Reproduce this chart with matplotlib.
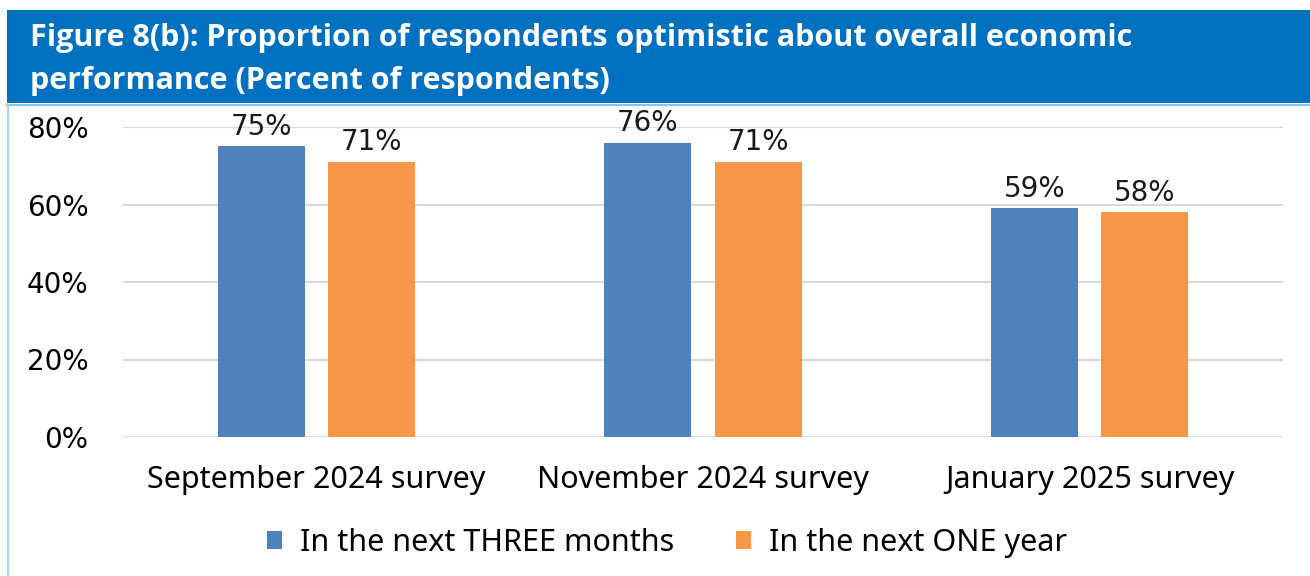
import numpy as np
import matplotlib.pyplot as plt
from matplotlib.patches import Rectangle
from matplotlib.lines import Line2D

surveys = ["September 2024 survey", "November 2024 survey", "January 2025 survey"]
three_months = [75, 76, 59]
one_year = [71, 71, 58]
series_names = ["In the next THREE months", "In the next ONE year"]
yticks = [0, 20, 40, 60, 80]
title_lines = ["Figure 8(b): Proportion of respondents optimistic about overall economic",
               "performance (Percent of respondents)"]

BLUE = "#4F81BD"
ORANGE = "#F79646"
BAND = "#0070C0"

W, H = 1310, 576
fig = plt.figure(figsize=(W / 100, H / 100), dpi=100)

# title band and frame
fig.patches.append(Rectangle((7 / W, 1 - 103 / H), 1 - 7 / W, 93 / H,
                             transform=fig.transFigure, facecolor=BAND, edgecolor="none", zorder=0))
fig.lines.append(Line2D([7 / W, 1], [1 - 105 / H] * 2, transform=fig.transFigure,
                        color="#7FC8EC", lw=1.5))
fig.lines.append(Line2D([8 / W] * 2, [0, 1 - 105 / H], transform=fig.transFigure,
                        color="#A9D6EE", lw=1.5))
for line, base in zip(title_lines, (46, 89)):
    fig.text(30 / W, 1 - base / H, line, color="white", fontsize=22,
             fontweight="bold", family="Open Sans", va="baseline", ha="left")

ax = fig.add_axes([123 / W, 1 - 437 / H, 1160 / W, 310 / H])
x = np.arange(len(surveys))
w = 0.225
off = 0.143
b1 = ax.bar(x - off, three_months, w, color=BLUE, zorder=2, label=series_names[0])
b2 = ax.bar(x + off, one_year, w, color=ORANGE, zorder=2, label=series_names[1])

for bars, vals in ((b1, three_months), (b2, one_year)):
    for rect, v in zip(bars, vals):
        ax.annotate(f"{v}%", (rect.get_x() + rect.get_width() / 2, v),
                    xytext=(0, 4), textcoords="offset points",
                    ha="center", va="bottom", fontsize=20, family="DejaVu Sans",
                    color="#1a1a1a", zorder=3)

ax.set_xlim(-0.5, 2.5)
ax.set_ylim(0, 80)
ax.set_yticks(yticks)
ax.set_yticklabels([f"{t}%" for t in yticks], fontsize=20, family="DejaVu Sans")
ax.set_xticks(x)
ax.set_xticklabels(surveys, fontsize=22, family="Noto Sans")
ax.tick_params(axis="both", length=0, colors="black")
ax.tick_params(axis="y", pad=25)
ax.tick_params(axis="x", pad=20)
ax.yaxis.grid(True, color="#D9D9D9", lw=1.5, zorder=0)
ax.set_axisbelow(True)
for s in ax.spines.values():
    s.set_visible(False)

fig.legend(handles=[b1, b2], loc="center", bbox_to_anchor=(0.5 + 12 / W, 1 - 543 / H),
           ncol=2, frameon=False, prop={"family": "Noto Sans", "size": 22},
           handlelength=0.5, handleheight=0.5, handletextpad=0.6, columnspacing=2.0)

fig.savefig("out.png", dpi=100)
